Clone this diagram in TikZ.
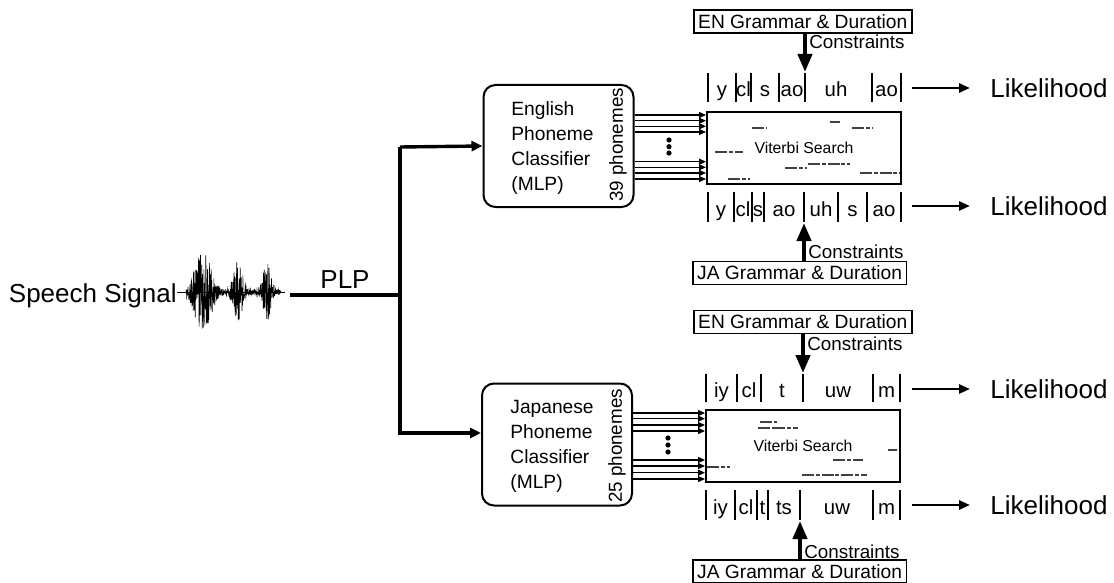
\documentclass[tikz,border=0pt]{standalone}
\usepackage{fontspec}
\setmainfont{Liberation Sans}
\usetikzlibrary{arrows.meta}

\begin{document}
\begin{tikzpicture}[x=0.5pt, y=-0.5pt,
  declare function={env(\t)=2+40*exp(-(\t-203)*(\t-203)/110)+30*exp(-(\t-238)*(\t-238)/40)+27*exp(-(\t-267)*(\t-267)/30);},
  big/.style={inner sep=0pt, font=\fontsize{13}{15.6}\selectfont},
  clsbox/.style={draw, line width=1pt, rounded corners=6pt, minimum width=75pt, minimum height=61pt},
  clstext/.style={anchor=west, align=left, inner sep=0pt, font=\fontsize{9.6}{12.5}\selectfont},
  phon/.style={rotate=90, inner sep=0pt, font=\fontsize{9.4}{11}\selectfont},
  vitbox/.style={draw, line width=1pt, minimum width=97pt, minimum height=36pt, font=\fontsize{7.9}{9}\selectfont},
  gram/.style={draw, line width=0.8pt, anchor=west, inner xsep=2.2pt, inner ysep=0pt, minimum height=11.5pt, font=\fontsize{9.6}{11}\selectfont},
  cons/.style={anchor=base west, inner sep=0pt, font=\fontsize{9.4}{11}\selectfont},
  seg/.style={anchor=base, inner sep=0pt, font=\fontsize{10.2}{12}\selectfont},
  bar/.style={line width=0.9pt},
  fat/.style={line width=1.7pt, -{Triangle[length=5.5pt,width=5pt]}},
  conarrow/.style={line width=2pt, -{Triangle[length=9pt,width=7pt]}},
  likarrow/.style={line width=1.4pt, -{Triangle[length=5.5pt,width=4.5pt]}, shorten >=10pt},
  pharrow/.style={line width=0.65pt, -{Triangle[length=3.5pt,width=3pt]}},
  trace/.style={line width=1pt, black!75, dash pattern=on 6pt off 0.8pt on 2pt off 1pt},
  wave/.style={line width=0.3pt}]

\useasboundingbox (0,0) rectangle (1114,583);

% Input signal
\node[big, anchor=base east] (sig) at (177,302) {Speech Signal};
\coordinate (wend) at (285,292);
\draw[wave] (sig.east |- 0,292) -- (wend);
\pgfmathsetseed{7}
\draw[wave] plot[domain=186:281, samples=420] (\x,{292+env(\x)*rand});

% Feature extraction and split
\coordinate (plpin) at (290,295);
\coordinate (split) at (400,295);
\node[big, anchor=base] (plp) at (345,288) {PLP};

% Classifiers
\node[clsbox] (eng) at (558.5,146) {};
\node[clstext] (engt) at (511,148.5) {English\\Phoneme\\Classifier\\(MLP)};
\node[phon] (n39) at (618,145) {39 phonemes};

\node[clsbox] (jap) at (557,444.5) {};
\node[clstext] (japt) at (510,446) {Japanese\\Phoneme\\Classifier\\(MLP)};
\node[phon] (n25) at (617,446) {25 phonemes};

% Viterbi search boxes
\node[vitbox] (vit1) at (804,148) {Viterbi Search};
\node[vitbox] (vit2) at (803,446) {Viterbi Search};

% Grammar boxes and constraints
\node[gram] (en1) at (693,21.5) {EN Grammar \& Duration};
\node[gram] (ja1) at (692,273) {JA Grammar \& Duration};
\node[gram] (en2) at (693,322) {EN Grammar \& Duration};
\node[gram] (ja2) at (692,571.5) {JA Grammar \& Duration};

\node[cons] (cn1) at (809,49) {Constraints};
\node[cons] (cn2) at (808,258) {Constraints};
\node[cons] (cn3) at (807,350) {Constraints};
\node[cons] (cn4) at (804,558) {Constraints};

\coordinate (tip1) at (805,72);
\coordinate (tip2) at (804,223);
\coordinate (tip3) at (803,373);
\coordinate (tip4) at (800,521);

% Segmentations
\foreach \x in {708,736,751,779,805,872,901} \draw[bar] (\x,73) -- (\x,102);
\foreach \x/\s [count=\i] in {722/y,743.5/cl,765/s,792/ao,836/uh,886.5/ao}
  \node[seg] (ea\i) at (\x,97) {\s};

\foreach \x in {708,734,752,764,804,838,867,901} \draw[bar] (\x,192) -- (\x,222);
\foreach \x/\s [count=\i] in {721/y,743/cl,758/s,784/ao,821/uh,852.5/s,884/ao}
  \node[seg] (eb\i) at (\x,216) {\s};

\foreach \x in {706,737,761,803,873,900} \draw[bar] (\x,374) -- (\x,402);
\foreach \x/\s [count=\i] in {721.5/iy,749/cl,782/t,838/uw,886.5/m}
  \node[seg] (jc\i) at (\x,397) {\s};

\foreach \x in {706,735,757,768,800,873,900} \draw[bar] (\x,490) -- (\x,520);
\foreach \x/\s [count=\i] in {720.5/iy,746/cl,762.5/t,784/ts,837/uw,886.5/m}
  \node[seg] (jd\i) at (\x,514) {\s};

% Outputs
\node[big, anchor=west] (lk1) at (990,88) {Likelihood};
\node[big, anchor=west] (lk2) at (990,206) {Likelihood};
\node[big, anchor=west] (lk3) at (990,389) {Likelihood};
\node[big, anchor=west] (lk4) at (990,505) {Likelihood};

\coordinate (o1) at (912,88);
\coordinate (o2) at (912,206);
\coordinate (o3) at (912,389);
\coordinate (o4) at (912,505);

% Viterbi traces
\foreach \a/\b/\y in {752/767/128,830/840/122,852/872/128,715/743/152,785/807/168,
  808/850/164,860/900/173,728/750/179}
  \draw[trace] (\a,\y) -- (\b,\y);
\foreach \a/\b/\y in {760/777/422,758/773/428,773/798/428,707/730/467,
  802/867/475,833/863/460,888/897/450}
  \draw[trace] (\a,\y) -- (\b,\y);

% Arrows
\draw[line width=1.7pt] (plpin) -- (split);
\draw[line width=1.7pt] (split) -- (400,147);
\draw[fat] (400,147) -- (eng.west);
\draw[fat] (split) |- (jap.west |- 0,433);

\foreach \y in {115,120.7,126.3,132,161.7,167.3,173,179}
  \draw[pharrow] (eng.east |- 0,\y) -- (vit1.west |- 0,\y);
\foreach \y in {413,418.7,425,431,460,466,472.7,479}
  \draw[pharrow] (jap.east |- 0,\y) -- (vit2.west |- 0,\y);
\foreach \y in {140,146.7,153} \fill (669,\y) circle (2.6);
\foreach \y in {438,445,452} \fill (668,\y) circle (2.6);

\draw[conarrow] (en1.south -| tip1) -- (tip1);
\draw[conarrow] (ja1.north -| tip2) -- (tip2);
\draw[conarrow] (en2.south -| tip3) -- (tip3);
\draw[conarrow] (ja2.north -| tip4) -- (tip4);

\draw[likarrow] (o1) -- (lk1.west |- o1);
\draw[likarrow] (o2) -- (lk2.west |- o2);
\draw[likarrow] (o3) -- (lk3.west |- o3);
\draw[likarrow] (o4) -- (lk4.west |- o4);

\end{tikzpicture}
\end{document}
